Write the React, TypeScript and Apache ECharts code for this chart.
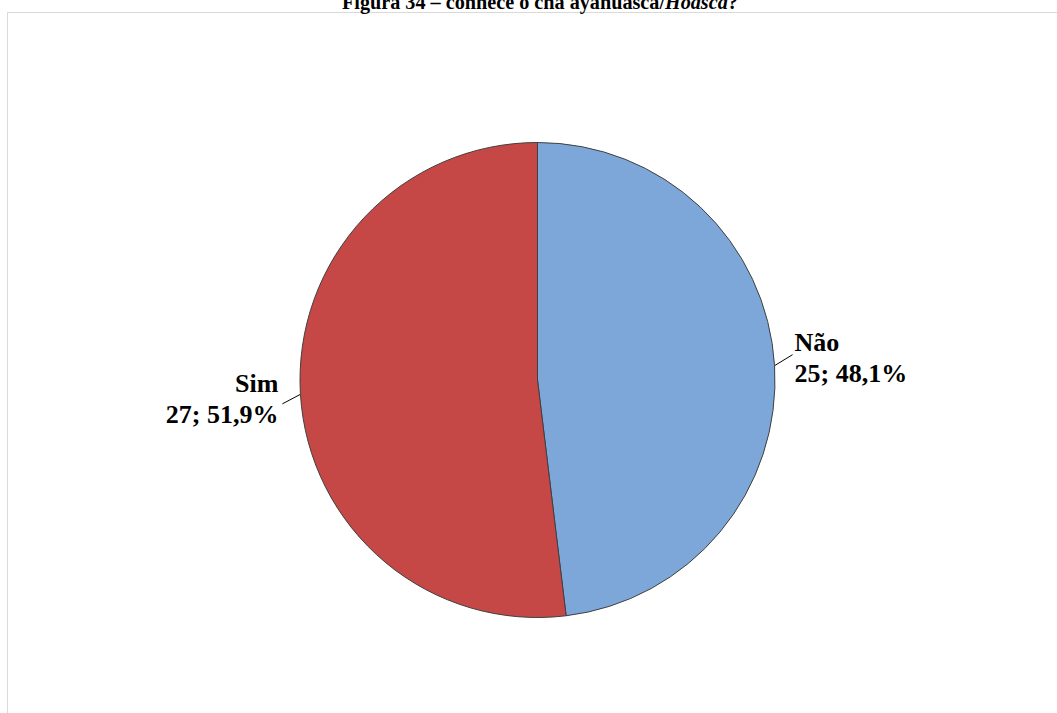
import React, { useEffect, useRef } from "react";
import * as echarts from "echarts";

const titleText = "Figura 34 – conhece o chá ayahuasca/{i|Hoasca}?";
const categories = ["Não", "Sim"];
const values = [25, 27];
const colors = ["#7DA7D9", "#C64846"];

const FONT = "'Liberation Serif', 'Times New Roman', serif";

export default function App() {
  const ref = useRef<HTMLDivElement>(null);
  useEffect(() => {
    if (!ref.current) return;
    const chart = echarts.init(ref.current, null, { renderer: "svg" });
    chart.setOption({
      animation: false,
      backgroundColor: "#ffffff",
      title: {
        text: titleText,
        left: 342,
        top: -8,
        padding: 0,
        textStyle: {
          fontFamily: FONT,
          fontSize: 20.2,
          fontWeight: "bold",
          color: "#000",
          rich: {
            i: { fontFamily: FONT, fontSize: 20.2, fontWeight: "bold", fontStyle: "italic", color: "#000" },
          },
        },
      },
      graphic: [
        {
          type: "rect",
          z: -1,
          silent: true,
          shape: { x: 7.5, y: 12.5, width: 1200, height: 900 },
          style: { fill: "none", stroke: "#d9d9d9", lineWidth: 1 },
        },
      ],
      series: [
        {
          type: "pie",
          center: [537.5, 380],
          radius: 237.5,
          startAngle: 90,
          clockwise: true,
          data: categories.map((c, i) => ({ name: c, value: values[i], itemStyle: { color: colors[i] } })),
          itemStyle: { borderColor: "#404040", borderWidth: 1 },
          emphasis: { disabled: true },
          label: {
            show: true,
            position: "outside",
            fontFamily: FONT,
            fontSize: 26,
            fontWeight: "bold",
            color: "#000",
            lineHeight: 31,
            formatter: (p: any) => `${p.name}\n${p.value}; ${p.percent.toFixed(1).replace(".", ",")}%`,
          },
          labelLine: { show: true, length: 10, length2: 10, lineStyle: { color: "#000", width: 1 } },
          labelLayout: (p: any) => {
            const pts = p.labelLinePoints;
            if (!pts) return {};
            const p0 = pts[0];
            if (p.dataIndex === 0) {
              const p1 = [p0[0] + 18, p0[1] - 11];
              return {
                x: p1[0] + 2,
                y: p1[1] + 3,
                align: "left",
                verticalAlign: "middle",
                labelLinePoints: [p0, p1, p1],
              };
            }
            const p1 = [p0[0] - 18, p0[1] + 9.5];
            return {
              x: p1[0] - 4,
              y: p1[1] - 5,
              align: "right",
              verticalAlign: "middle",
              labelLinePoints: [p0, p1, p1],
            };
          },
        },
      ],
    });
    return () => chart.dispose();
  }, []);
  return (
    <div
      ref={ref}
      style={{ position: "fixed", left: 0, top: 0, width: 1057, height: 713 }}
    />
  );
}
